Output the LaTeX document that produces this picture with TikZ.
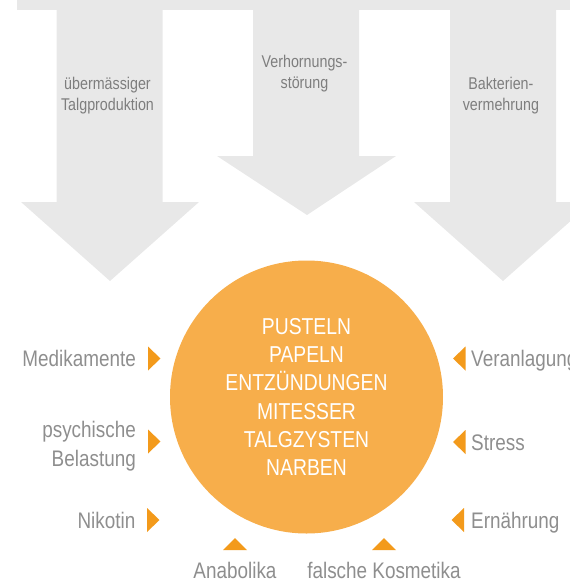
\documentclass[tikz,border=0pt]{standalone}
\usepackage{fontspec}
\setmainfont{Liberation Sans}[FakeStretch=0.84]
\definecolor{arrowgray}{HTML}{E8E8E8}
\definecolor{circorange}{HTML}{F7AE4B}
\definecolor{triorange}{HTML}{F39A1B}
\definecolor{labgray}{HTML}{8E8E8E}
\definecolor{toplabgray}{HTML}{7E7E7E}
\begin{document}
\begin{tikzpicture}[x=1pt,y=-1pt,
  bigarrow/.style={fill=arrowgray},
  toplab/.style={text=toplabgray,inner sep=0,font={\fontsize{17}{21}\selectfont}},
  sidelab/.style={text=labgray,inner sep=0,font={\fontsize{22.5}{29}\selectfont}},
  marker/.style={fill=triorange},
  core/.style={circle,fill=circorange,minimum size=273pt,inner sep=0,text=white,align=center,
    font={\fontsize{23}{28.2}\selectfont}}]
\useasboundingbox (0,0) rectangle (570,582);
% grey band and three big arrows
\fill[bigarrow] (17,-2) rectangle (600,10);
\fill[bigarrow] (56.5,9) -- (162.5,9) -- (162.5,202) -- (199,202) -- (110,281) -- (21,202) -- (56.5,202) -- cycle;
\fill[bigarrow] (253,9) -- (359,9) -- (359,156) -- (396,156) -- (307,215) -- (217,156) -- (253,156) -- cycle;
\fill[bigarrow] (450,9) -- (556,9) -- (556,202) -- (592,202) -- (503,281) -- (414,202) -- (450,202) -- cycle;
% arrow labels
\node[toplab,anchor=base] (t1a) at (107.5,89.3) {übermässiger};
\node[toplab,anchor=base] (t1b) at (107.5,110) {Talgproduktion};
\node[toplab,anchor=base] (t2a) at (304.5,67.7) {Verhornungs-};
\node[toplab,anchor=base] (t2b) at (304.5,88.3) {störung};
\node[toplab,anchor=base] (t3a) at (500.9,89.3) {Bakterien-};
\node[toplab,anchor=base] (t3b) at (500.9,110) {vermehrung};
% central circle
\node[core] (c) at (306.5,397) {PUSTELN\\PAPELN\\ENTZÜNDUNGEN\\MITESSER\\TALGZYSTEN\\NARBEN};
% left labels
\node[sidelab,anchor=base east] (med) at (136,366.5) {Medikamente};
\node[sidelab,anchor=base east] (psy1) at (136,437) {psychische};
\node[sidelab,anchor=base east] (psy2) at (136,466) {Belastung};
\node[sidelab,anchor=base east] (nik) at (135.5,528.5) {Nikotin};
% right labels
\node[sidelab,anchor=base west] (ver) at (471,366.5) {Veranlagung};
\node[sidelab,anchor=base west] (str) at (471,450.5) {Stress};
\node[sidelab,anchor=base west] (ern) at (471,528.5) {Ernährung};
% bottom labels
\node[sidelab,anchor=base] (ana) at (235,578) {Anabolika};
\node[sidelab,anchor=base] (kos) at (384,578) {falsche Kosmetika};
% markers
\fill[marker] (148,346.5) -- (160.5,358.5) -- (148,370.5) -- cycle;
\fill[marker] (148,429.5) -- (160.5,441.5) -- (148,453.5) -- cycle;
\fill[marker] (147,508) -- (159.5,520) -- (147,532) -- cycle;
\fill[marker] (465.5,346.5) -- (453,358.5) -- (465.5,370.5) -- cycle;
\fill[marker] (465.5,430) -- (453,442) -- (465.5,454) -- cycle;
\fill[marker] (464,508) -- (451.5,520) -- (464,532) -- cycle;
\fill[marker] (223,550) -- (235,538) -- (247,550) -- cycle;
\fill[marker] (372,550) -- (384,538) -- (396,550) -- cycle;
\end{tikzpicture}
\end{document}
